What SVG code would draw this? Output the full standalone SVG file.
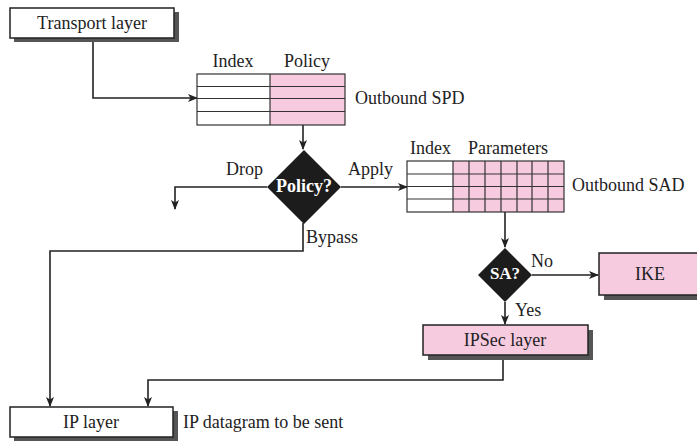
<svg xmlns="http://www.w3.org/2000/svg" width="697" height="441" viewBox="0 0 697 441">
<style>
text{font-family:"Liberation Serif","Times New Roman",serif;font-size:18px;fill:#222}
.c{text-anchor:middle}
.box{stroke:#222;stroke-width:1.5}
.sh{fill:#555}
.w{fill:#fff}
.pk{fill:#f7cbdf}
.ln{fill:none;stroke:#222;stroke-width:1.6}
.grid{fill:none;stroke:#333;stroke-width:1.2}
.dia{fill:#1c1c1c}
.wt{fill:#fff;font-weight:bold}
</style>
<defs>
<marker id="ah" markerUnits="userSpaceOnUse" markerWidth="10" markerHeight="8" refX="9" refY="4" orient="auto">
<path d="M0,0 L10,4 L0,8 L2.5,4 Z" fill="#222"/>
</marker>
</defs>
<g id="connectors" class="ln" marker-end="url(#ah)">
<path d="M93,38 V98 H197"/>
<path d="M303,125 V149"/>
<path d="M267,187 H175 V209"/>
<path d="M341,187 H407"/>
<path d="M303,223 V251 H50 V406"/>
<path d="M505,212 V247"/>
<path d="M532,275 H598"/>
<path d="M505,302 V324"/>
<path d="M503,355 V380 H148 V406"/>
</g>
<g id="transport">
<rect class="sh" x="14" y="12" width="165" height="30"/>
<rect class="box w" x="10" y="8" width="164" height="30"/>
<text class="c" x="92" y="29">Transport layer</text>
</g>
<g id="spd">
<text class="c" x="233" y="67">Index</text>
<text class="c" x="307" y="67">Policy</text>
<rect class="w" x="197" y="74" width="73" height="51"/>
<rect class="pk" x="270" y="74" width="75" height="51"/>
<g class="grid">
<rect x="197" y="74" width="148" height="51"/>
<path d="M270,74 V125 M197,86.5 H345 M197,98.5 H345 M197,111.5 H345"/>
</g>
<text x="355" y="104">Outbound SPD</text>
</g>
<g id="policy">
<path class="dia" d="M304,150 L341,187 L304,224 L267,187 Z"/>
<text class="c wt" x="304" y="192">Policy?</text>
<text x="226" y="175">Drop</text>
<text x="348" y="175">Apply</text>
<text x="306" y="243">Bypass</text>
</g>
<g id="sad">
<text x="410" y="154">Index</text>
<text x="468" y="154">Parameters</text>
<rect class="w" x="407" y="161" width="46" height="51"/>
<rect class="pk" x="453" y="161" width="111" height="51"/>
<g class="grid">
<rect x="407" y="161" width="157" height="51"/>
<path d="M453,161 V212 M469,161 V212 M485,161 V212 M501,161 V212 M517,161 V212 M532,161 V212 M548,161 V212 M407,174 H564 M407,186.5 H564 M407,199 H564"/>
</g>
<text x="572" y="191">Outbound SAD</text>
</g>
<g id="sa">
<path class="dia" d="M505,248 L532,275 L505,302 L478,275 Z"/>
<text class="c wt" x="505" y="279" style="font-size:17px">SA?</text>
<text x="531" y="267">No</text>
<text x="515" y="316">Yes</text>
</g>
<g id="ike">
<rect class="sh" x="604" y="258" width="100" height="42"/>
<rect class="box pk" x="599" y="253" width="105" height="42"/>
<text class="c" x="650" y="280">IKE</text>
</g>
<g id="ipsec">
<rect class="sh" x="428" y="330" width="165" height="30"/>
<rect class="box pk" x="423" y="325" width="165" height="30"/>
<text class="c" x="505" y="346">IPSec layer</text>
</g>
<g id="ip">
<rect class="sh" x="14" y="411" width="164" height="30"/>
<rect class="box w" x="10" y="407" width="163" height="30"/>
<text class="c" x="91" y="428">IP layer</text>
<text x="183" y="428">IP datagram to be sent</text>
</g>
</svg>
